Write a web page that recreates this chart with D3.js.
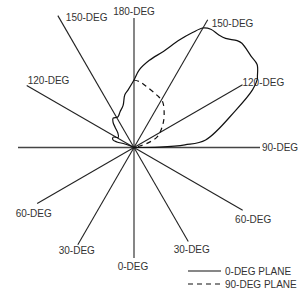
<!DOCTYPE html>
<html lang="en">
  <head>
    <meta charset="UTF-8" />
    <title>Radiation pattern</title>
    <script src="https://d3js.org/d3.v7.min.js"></script>
    <style>
      body {
        margin: 0;
        background: #fff;
      }
      svg {
        display: block;
      }
      .spoke {
        stroke: #222;
        stroke-width: 1.1px;
      }
      .spoke.axis {
        stroke: #444;
        stroke-width: 1.5px;
      }
      .lbl {
        font-family: "Liberation Sans", Arial, sans-serif;
        font-size: 10px;
        fill: #333;
      }
      .pattern {
        fill: none;
        stroke: #111;
        stroke-width: 1.2px;
      }
    </style>
  </head>
  <body>
    <svg id="chart" width="305" height="292"></svg>

    <script>
      // angles: 0 = down, 90 = right, 180 = up, 270 = left (clockwise on the left side)
      const spokeAngles = [0, 30, 60, 90, 120, 150, 180, 210, 240, 270, 300, 330];
      const spokeLabels = ["0-DEG", "30-DEG", "60-DEG", "90-DEG", "120-DEG", "150-DEG",
        "180-DEG", "150-DEG", "120-DEG", "", "60-DEG", "30-DEG"];

      // 0-DEG plane pattern (angle, relative level)
      const plane0Angle = [90, 91, 93, 96, 110, 116, 119, 120, 124, 128, 134, 136, 140, 143,
        147, 150, 153, 157, 163, 170, 176, 180, 186, 190, 194.5, 201.5, 208, 215.5,
        219.5, 223, 228, 237, 243.5, 250, 252, 249, 250];
      const plane0Level = [0, 0.17, 0.34, 0.48, 0.72, 0.88, 0.94, 0.95, 0.99, 0.99, 1.0,
        0.99, 0.95, 0.94, 0.94, 0.92, 0.86, 0.78, 0.67, 0.59, 0.52, 0.45, 0.385, 0.355,
        0.29, 0.255, 0.23, 0.24, 0.22, 0.185, 0.145, 0.125, 0.155, 0.15, 0.12, 0.065, 0];

      // 90-DEG plane pattern
      const plane90Angle = [180, 175, 167, 156, 148, 137, 131, 123, 114.5, 109, 104, 100];
      const plane90Level = [0.45, 0.44, 0.41, 0.38, 0.36, 0.295, 0.26, 0.215, 0.17, 0.11,
        0.04, 0];

      const legendLabels = ["0-DEG PLANE", "90-DEG PLANE"];

      // layout: spoke length (px) and label offset from the spoke end
      const spokeLayout = [
        { len: 110.5, dx: -1, dy: 11.6, anchor: "middle" },
        { len: 108.5, dx: 3.5, dy: 11.6, anchor: "middle" },
        { len: 125.5, dx: 10.5, dy: 12.6, anchor: "middle" },
        { len: 126, dx: 2, dy: 3.1, anchor: "start" },
        { len: 125.3, dx: 0, dy: 1.6, anchor: "start" },
        { len: 147.4, dx: 4, dy: 7.6, anchor: "start" },
        { len: 129.5, dx: 0, dy: -3.4, anchor: "middle" },
        { len: 152.3, dx: 8, dy: 5.6, anchor: "start" },
        { len: 123.9, dx: 1, dy: -1.4, anchor: "start" },
        { len: 116, dx: 0, dy: 0, anchor: "start" },
        { len: 111.8, dx: -3.5, dy: 13.6, anchor: "middle" },
        { len: 112.4, dx: -1, dy: 9.6, anchor: "middle" },
      ];

      const svg = d3.select("#chart");
      const cx = 134, cy = 147.5;

      // degree -> d3 radial angle (0 at top, clockwise)
      const angle = d3.scaleLinear().domain([0, 360]).range([Math.PI, -Math.PI]);
      const radius = d3.scaleLinear().domain([0, 1]).range([0, 150]);

      const g = svg.append("g").attr("transform", `translate(${cx},${cy})`);

      const spokes = spokeAngles.map((a, i) => {
        const L = spokeLayout[i];
        const t = angle(a);
        return {
          label: spokeLabels[i],
          x: L.len * Math.sin(t),
          y: -L.len * Math.cos(t),
          axis: a % 90 === 0 && a % 180 !== 0,
          ...L,
        };
      });

      g.selectAll(".spoke")
        .data(spokes)
        .join("line")
        .attr("class", (d) => (d.axis ? "spoke axis" : "spoke"))
        .attr("x1", 0)
        .attr("y1", 0)
        .attr("x2", (d) => d.x)
        .attr("y2", (d) => d.y);

      g.selectAll(".lbl")
        .data(spokes.filter((d) => d.label))
        .join("text")
        .attr("class", "lbl")
        .attr("x", (d) => d.x + d.dx)
        .attr("y", (d) => d.y + d.dy)
        .attr("text-anchor", (d) => d.anchor)
        .text((d) => d.label);

      const radial = d3
        .lineRadial()
        .angle((d) => angle(d[0]))
        .radius((d) => radius(d[1]))
        .curve(d3.curveCatmullRom.alpha(0.5));

      g.append("path")
        .datum(d3.zip(plane0Angle, plane0Level))
        .attr("class", "pattern")
        .attr("d", radial);

      g.append("path")
        .datum(d3.zip(plane90Angle, plane90Level))
        .attr("class", "pattern")
        .attr("stroke-dasharray", "5,4")
        .attr("d", radial);

      // legend
      const leg = svg.append("g").attr("transform", "translate(188,271)");
      leg.selectAll("line")
        .data(legendLabels)
        .join("line")
        .attr("x1", 0)
        .attr("x2", 33)
        .attr("y1", (d, i) => i * 13)
        .attr("y2", (d, i) => i * 13)
        .attr("stroke", "#111")
        .attr("stroke-width", 1.2)
        .attr("stroke-dasharray", (d, i) => (i ? "5,4" : null));
      leg.selectAll("text")
        .data(legendLabels)
        .join("text")
        .attr("class", "lbl")
        .attr("x", 37)
        .attr("y", (d, i) => i * 13 + 3.6)
        .text((d) => d);
    </script>
  </body>
</html>
